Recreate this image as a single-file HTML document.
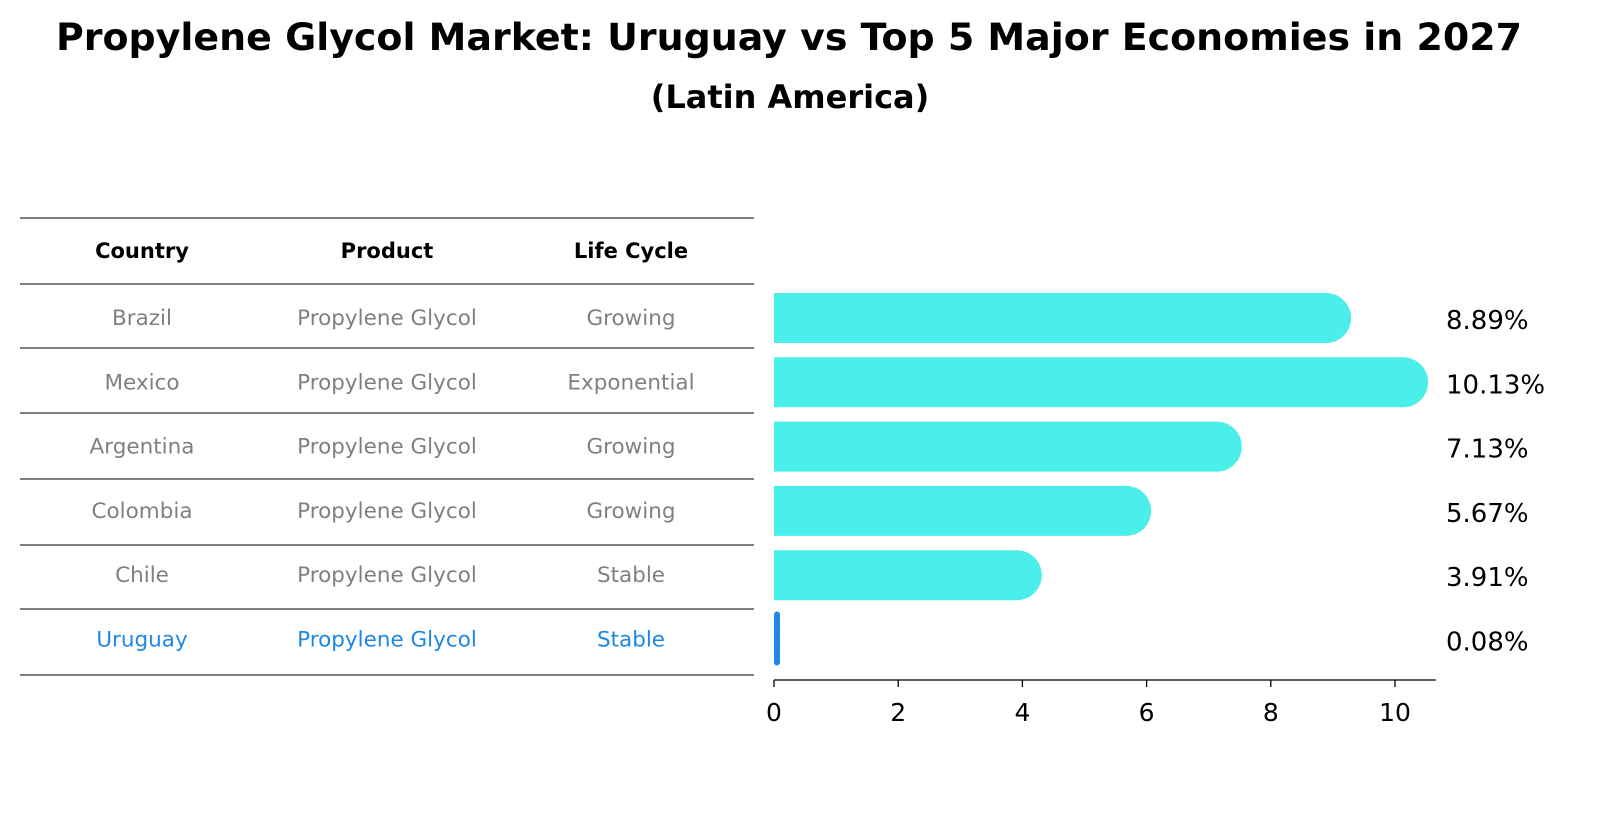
<!DOCTYPE html>
<html><head><meta charset="utf-8"><style>
body{margin:0;background:#fff;font-family:"DejaVu Sans","Liberation Sans",sans-serif;}
</style></head><body>
<svg id="chart" width="1604" height="823" xmlns="http://www.w3.org/2000/svg" font-family="DejaVu Sans, Liberation Sans, sans-serif">
<text x="789" y="50" text-anchor="middle" font-size="37.5" font-weight="bold" textLength="1466" lengthAdjust="spacingAndGlyphs">Propylene Glycol Market: Uruguay vs Top 5 Major Economies in 2027</text>
<text x="790" y="108" text-anchor="middle" font-size="32" font-weight="bold">(Latin America)</text>
<g id="table"></g>
<g id="bars"></g>
<g id="axis"></g>
</svg>
<script>
const countries=["Brazil","Mexico","Argentina","Colombia","Chile","Uruguay"];
const products=["Propylene Glycol","Propylene Glycol","Propylene Glycol","Propylene Glycol","Propylene Glycol","Propylene Glycol"];
const cycles=["Growing","Exponential","Growing","Growing","Stable","Stable"];
const values=[8.89,10.13,7.13,5.67,3.91,0.08];
const ticks=[0,2,4,6,8,10];
const NS="http://www.w3.org/2000/svg";
const x0=774,ppu=62.1;
const xs=v=>x0+v*ppu;
const rowY=i=>318+i*64.3;
function mk(t,a,p){const e=document.createElementNS(NS,t);for(const k in a)e.setAttribute(k,a[k]);p.appendChild(e);return e;}
const tbl=document.getElementById('table');
const lines=[218,284,348,413,479,545,609,675];
lines.forEach((y,i)=>{const l=mk('line',{x1:20,x2:754,y1:y,y2:y,stroke:'#000','stroke-width':1},tbl);

});
const colX=[142,387,631];
["Country","Product","Life Cycle"].forEach((h,j)=>{const t=mk('text',{x:colX[j],y:258,'text-anchor':'middle','font-size':21,'font-weight':'bold'},tbl);t.textContent=h;

});
countries.forEach((c,i)=>{const col=c==="Uruguay"?"#1e88e5":"#808080";
[c,products[i],cycles[i]].forEach((v,j)=>{const t=mk('text',{x:colX[j],y:rowY(i)+7,'text-anchor':'middle','font-size':21.5,fill:col},tbl);t.textContent=v;

});});
const bars=document.getElementById('bars');
values.forEach((v,i)=>{const y=rowY(i);
if(countries[i]==="Uruguay"){const r=mk('line',{x1:xs(0)+3,x2:xs(0)+3,y1:y-25,y2:y+25,stroke:'#1e88e5','stroke-width':6,'stroke-linecap':'round','stroke-dasharray':'3 2'},bars);

}
else{const w=xs(v)-x0;const p=mk('path',{d:`M${x0},${y-25} H${x0+w} A25,25 0 0 1 ${x0+w},${y+25} H${x0} Z`,fill:'#4aeeea'},bars);

}
const t=mk('text',{x:1446,y:y+11,'font-size':26},bars);t.textContent=v.toFixed(2)+"%";

});
const ax=document.getElementById('axis');
const al=mk('line',{x1:x0,x2:1436,y1:680,y2:680,stroke:'#000','stroke-width':1.3},ax);


ticks.forEach(v=>{const l=mk('line',{x1:xs(v),x2:xs(v),y1:680,y2:687,stroke:'#000','stroke-width':1.3},ax);


const t=mk('text',{x:xs(v),y:721,'text-anchor':'middle','font-size':25},ax);t.textContent=v;

});
</script>
</body></html>
